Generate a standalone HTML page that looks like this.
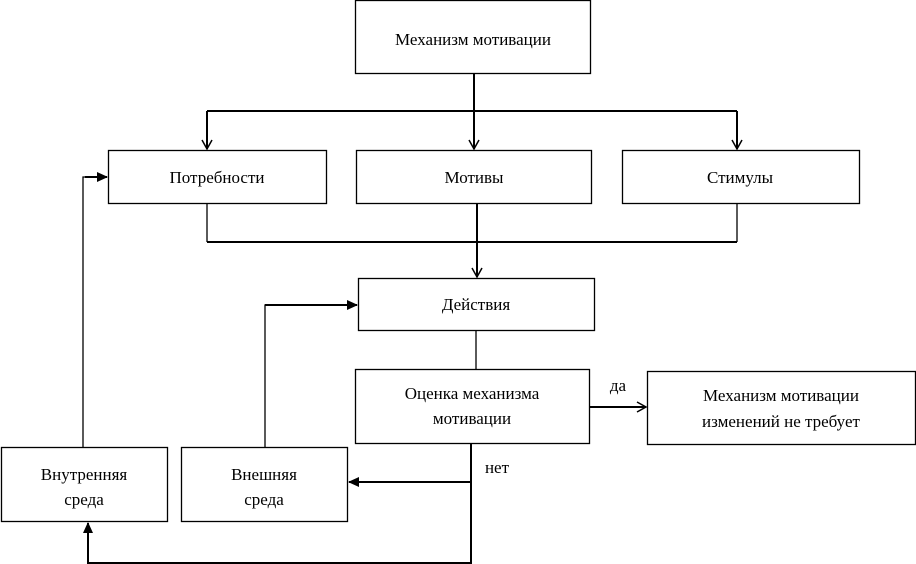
<!DOCTYPE html>
<html><head><meta charset="utf-8"><style>
html,body{margin:0;padding:0;background:#fff;width:916px;height:564px;overflow:hidden}
svg{display:block}
text{font-family:"Liberation Serif","DejaVu Serif",serif;font-size:17px;fill:#000}
</style></head><body>
<svg width="916" height="564" viewBox="0 0 916 564" xmlns="http://www.w3.org/2000/svg">
<defs>
<marker id="open" markerWidth="12" markerHeight="12" refX="10" refY="6" orient="auto" markerUnits="userSpaceOnUse">
<path d="M1,1 L10,6 L1,11" fill="none" stroke="#000" stroke-width="1.5"/></marker>
<marker id="fill" markerWidth="12" markerHeight="12" refX="10" refY="6" orient="auto" markerUnits="userSpaceOnUse">
<path d="M0,1 L11,6 L0,11 Z" fill="#000"/></marker>
</defs>
<g fill="none" stroke="#000" stroke-width="1.3">
<rect x="355.5" y="0.5" width="235" height="73"/>
<rect x="108.5" y="150.5" width="218" height="53"/>
<rect x="356.5" y="150.5" width="235" height="53"/>
<rect x="622.5" y="150.5" width="237" height="53"/>
<rect x="358.5" y="278.5" width="236" height="52"/>
<rect x="355.5" y="369.5" width="234" height="74"/>
<rect x="647.5" y="371.5" width="268" height="73"/>
<rect x="1.5" y="447.5" width="166" height="74"/>
<rect x="181.5" y="447.5" width="166" height="74"/>
</g>
<g fill="none" stroke="#000" stroke-width="2">
<line x1="474" y1="74" x2="474" y2="111"/>
<line x1="207" y1="111" x2="737" y2="111"/>
<line x1="207" y1="111" x2="207" y2="149" marker-end="url(#open)"/>
<line x1="474" y1="111" x2="474" y2="149" marker-end="url(#open)"/>
<line x1="737" y1="111" x2="737" y2="149" marker-end="url(#open)"/>
<line x1="207" y1="204" x2="207" y2="242" stroke-width="1.3"/>
<line x1="737" y1="204" x2="737" y2="242" stroke-width="1.3"/>
<line x1="207" y1="242" x2="737" y2="242"/>
<line x1="477" y1="204" x2="477" y2="277" marker-end="url(#open)"/>
<line x1="476" y1="331" x2="476" y2="369" stroke-width="1.3"/>
<line x1="590" y1="407" x2="646" y2="407" marker-end="url(#open)"/>
<line x1="471" y1="444" x2="471" y2="564"/>
<line x1="471" y1="482" x2="349" y2="482" marker-end="url(#fill)"/>
<polyline points="471,563 88,563 88,523" marker-end="url(#fill)"/>
<polyline points="83,447 83,177 107,177" stroke-width="1.3"/>
<line x1="85" y1="177" x2="107" y2="177" marker-end="url(#fill)"/>
<polyline points="265,447 265,305 300,305" stroke-width="1.3"/>
<line x1="265" y1="305" x2="357" y2="305" marker-end="url(#fill)"/>
</g>
<g text-anchor="middle">
<text x="473" y="45">Механизм мотивации</text>
<text x="217" y="183">Потребности</text>
<text x="474" y="183">Мотивы</text>
<text x="740" y="183">Стимулы</text>
<text x="476" y="310">Действия</text>
<text x="472" y="399">Оценка механизма</text>
<text x="472" y="424">мотивации</text>
<text x="781" y="401">Механизм мотивации</text>
<text x="781" y="427">изменений не требует</text>
<text x="84" y="480">Внутренняя</text>
<text x="84" y="505">среда</text>
<text x="264" y="480">Внешняя</text>
<text x="264" y="505">среда</text>
<text x="618" y="391">да</text>
<text x="497" y="473">нет</text>
</g>
</svg>
</body></html>
